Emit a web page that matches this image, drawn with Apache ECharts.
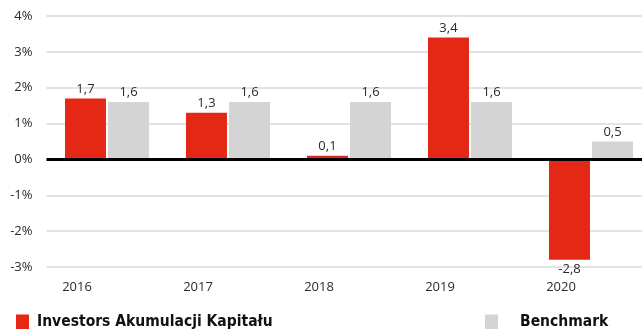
<!DOCTYPE html>
<html>
<head>
<meta charset="utf-8">
<script src="https://cdn.jsdelivr.net/npm/echarts@6/dist/echarts.min.js"></script>
<style>
  html, body { margin: 0; padding: 0; background: #fff; overflow: hidden; }
  #chart { width: 660px; height: 329px; }
</style>
</head>
<body>
<div id="chart"></div>
<script>
// Annual returns, in percent
const years = ['2016', '2017', '2018', '2019', '2020'];
const fundName = 'Investors Akumulacji Kapitału';
const benchName = 'Benchmark';
const fundValues = [1.7, 1.3, 0.1, 3.4, -2.8];
const benchValues = [1.6, 1.6, 1.6, 1.6, 0.5];
const yTicks = { min: -3, max: 4, step: 1 };

const RED = '#e52816';
const GREY = '#d4d4d4';
const TEXT = '#2b2b2b';
const labelFont = '"Open Sans", "Noto Sans", sans-serif';
const legendFont = '"Liberation Sans Narrow", "DejaVu Sans Condensed", sans-serif';

const fmt = v => String(v).replace('.', ',');

function barData(values) {
  return values.map(v => ({
    value: v,
    label: { position: v < 0 ? 'bottom' : 'top' }
  }));
}

const barLabel = {
  show: true,
  distance: 3,
  fontFamily: labelFont,
  fontSize: 13,
  color: TEXT,
  formatter: p => fmt(p.value)
};

const legendText = {
  fontFamily: legendFont,
  fontWeight: 'bold',
  fontSize: 15.5,
  color: '#111'
};

const chart = echarts.init(document.getElementById('chart'), null, { renderer: 'canvas' });
chart.setOption({
  animation: false,
  grid: { left: 46.5, top: 16, width: 605, height: 251, containLabel: false },
  xAxis: {
    type: 'category',
    data: years,
    axisLine: { show: false, onZero: false },
    axisTick: { show: false },
    axisLabel: {
      margin: 14,
      padding: [0, 60, 0, 0],
      fontFamily: labelFont,
      fontSize: 13,
      color: TEXT
    }
  },
  yAxis: {
    type: 'value',
    min: yTicks.min,
    max: yTicks.max,
    interval: yTicks.step,
    axisLine: { show: false },
    axisTick: { show: false },
    axisLabel: {
      margin: 14,
      fontFamily: labelFont,
      fontSize: 13,
      color: TEXT,
      formatter: v => v + '%'
    },
    splitLine: { lineStyle: { color: '#dadada', width: 1.5 } }
  },
  legend: [
    {
      data: [fundName],
      left: 16, top: 314, padding: 0,
      itemWidth: 13, itemHeight: 15, itemGap: 0,
      icon: 'rect',
      textStyle: Object.assign({}, legendText, { padding: [0, 0, 0, 3] })
    },
    {
      data: [benchName],
      left: 485, top: 314, padding: 0,
      itemWidth: 13, itemHeight: 15, itemGap: 0,
      icon: 'rect',
      textStyle: Object.assign({}, legendText, { padding: [0, 0, 0, 17] })
    }
  ],
  series: [
    {
      name: fundName,
      type: 'bar',
      data: barData(fundValues),
      barWidth: 41,
      barGap: '5%',
      itemStyle: { color: RED },
      label: barLabel,
      markLine: {
        silent: true,
        symbol: 'none',
        label: { show: false },
        lineStyle: { color: '#000', width: 3, type: 'solid' },
        data: [{ yAxis: 0 }]
      }
    },
    {
      name: benchName,
      type: 'bar',
      data: barData(benchValues),
      barWidth: 41,
      itemStyle: { color: GREY },
      label: barLabel
    }
  ]
});
</script>
</body>
</html>
